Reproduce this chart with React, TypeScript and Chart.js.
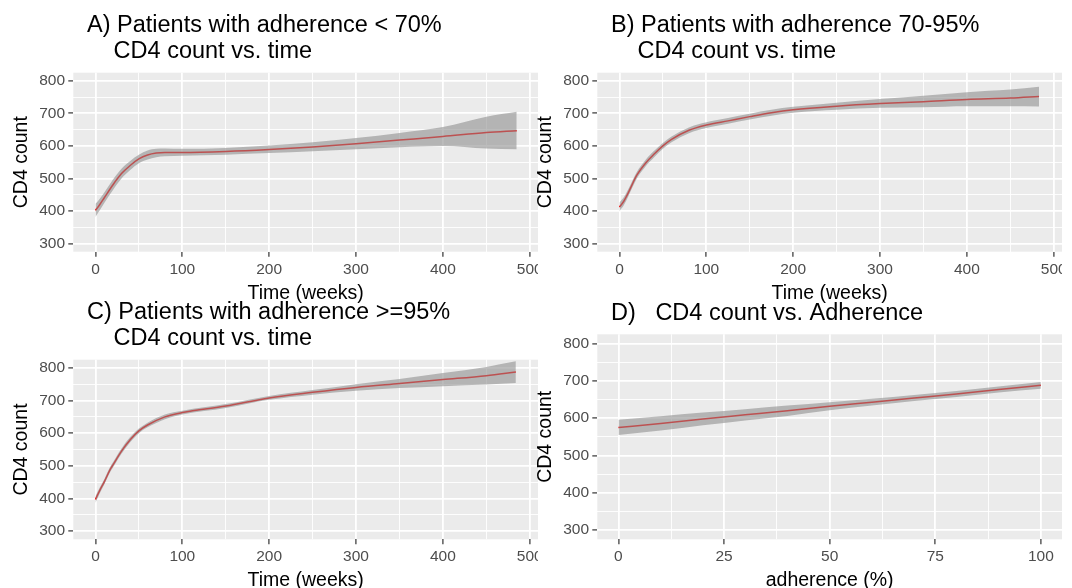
import { useEffect, useRef } from "react";
import { Chart, registerables } from "chart.js";

Chart.register(...registerables);

const FONT = "'Liberation Sans', Arial, Helvetica, sans-serif";

// ---------- text ----------
const titleA = ["A) Patients with adherence < 70%", "CD4 count vs. time"];
const titleB = ["B) Patients with adherence 70-95%", "CD4 count vs. time"];
const titleC = ["C) Patients with adherence >=95%", "CD4 count vs. time"];
const titleD = ["D)   CD4 count vs. Adherence"];
const yTitle = "CD4 count";
const xTitleTime = "Time (weeks)";
const xTitleAdh = "adherence (%)";

// ---------- ticks ----------
const timeMajorTicks = [0, 100, 200, 300, 400, 500];
const timeMinorTicks = [50, 150, 250, 350, 450];
const adhMajorTicks = [0, 25, 50, 75, 100];
const adhMinorTicks = [12.5, 37.5, 62.5, 87.5];
const cd4MajorTicks = [300, 400, 500, 600, 700, 800];
const cd4MinorTicks = [350, 450, 550, 650, 750];

// ---------- Panel A: adherence < 70% ----------
const timeA = [0, 5, 10, 20, 30, 40, 50, 60, 70, 80, 100, 150, 200, 250, 300, 350, 400, 450, 485];
const fitA = [402, 420, 440, 480, 515, 540, 560, 572, 578, 580, 580, 583, 589, 597, 607, 618, 629, 641, 647];
const lowA = [382, 402, 424, 464, 500, 526, 547, 558, 565, 568, 570, 573, 578, 584, 590, 596, 600, 592, 590];
const upA = [422, 438, 456, 496, 530, 554, 573, 586, 591, 592, 591, 594, 601, 611, 624, 640, 658, 690, 705];

// ---------- Panel B: adherence 70-95% ----------
const timeB = [0, 5, 10, 20, 30, 40, 50, 60, 80, 100, 125, 150, 175, 200, 250, 300, 350, 400, 450, 483];
const fitB = [412, 430, 455, 510, 547, 575, 600, 620, 648, 664, 677, 690, 702, 711, 722, 730, 736, 743, 747, 752];
const lowB = [400, 418, 444, 500, 537, 565, 591, 611, 639, 655, 668, 681, 693, 702, 711, 717, 719, 722, 722, 721];
const upB = [426, 442, 466, 520, 557, 585, 609, 629, 657, 673, 686, 699, 711, 720, 733, 744, 754, 765, 773, 782];

// ---------- Panel C: adherence >= 95% ----------
const timeC = [0, 5, 10, 17, 20, 30, 40, 50, 60, 80, 100, 150, 200, 250, 300, 350, 400, 450, 484];
const fitC = [397, 425, 450, 489, 502, 545, 580, 607, 625, 650, 663, 683, 708, 725, 740, 752, 764, 776, 787];
const lowC = [387, 416, 442, 481, 494, 537, 572, 600, 618, 643, 657, 677, 702, 718, 730, 738, 744, 749, 754];
const upC = [407, 434, 458, 497, 510, 553, 588, 614, 632, 657, 669, 689, 714, 732, 750, 766, 784, 803, 820];

// ---------- Panel D: CD4 vs adherence ----------
const adhD = [0, 10, 20, 30, 40, 50, 60, 70, 80, 90, 100];
const fitD = [575, 586, 598, 609, 620, 632, 643, 654, 665, 677, 688];
const lowD = [555, 567, 581, 594, 606, 621, 634, 646, 657, 669, 679];
const upD = [596, 605, 615, 624, 634, 643, 652, 662, 673, 685, 697];

const RIBBON = "rgba(140,140,140,0.58)";
const PANEL_BG = "#EBEBEB";

const CANVAS_W = 560;
const CANVAS_H = 305;

type PanelCfg = {
  title: string[];
  titleX: number[];
  titleY: number[];
  xs: number[];
  fit: number[];
  low: number[];
  up: number[];
  xMin: number;
  xMax: number;
  xMajor: number[];
  xMinor: number[];
  xTitle: string;
  plotTop: number;
  plotBottom: number;
};

const isIn = (arr: number[], v: number) => arr.some((m) => Math.abs(m - v) < 1e-6);

const bgPlugin = {
  id: "panelBg",
  beforeDraw(chart: any) {
    const { ctx, chartArea } = chart;
    ctx.save();
    ctx.fillStyle = PANEL_BG;
    ctx.fillRect(chartArea.left, chartArea.top, chartArea.right - chartArea.left, chartArea.bottom - chartArea.top);
    ctx.restore();
  },
};

function makeTitlePlugin(cfg: PanelCfg) {
  return {
    id: "panelTitle",
    afterDraw(chart: any) {
      const ctx = chart.ctx;
      ctx.save();
      ctx.font = `23.5px ${FONT}`;
      ctx.fillStyle = "#000000";
      ctx.textAlign = "left";
      ctx.textBaseline = "middle";
      cfg.title.forEach((line, i) => ctx.fillText(line, cfg.titleX[i], cfg.titleY[i]));
      ctx.restore();
    },
  };
}

function Panel({ left, top, cfg }: { left: number; top: number; cfg: PanelCfg }) {
  const ref = useRef<HTMLCanvasElement>(null);
  useEffect(() => {
    const canvas = ref.current;
    if (!canvas) return;
    const xTicks = [...cfg.xMajor, ...cfg.xMinor].sort((a, b) => a - b);
    const yTicks = [...cd4MajorTicks, ...cd4MinorTicks].sort((a, b) => a - b);
    const chart = new Chart(canvas, {
      type: "line",
      data: {
        datasets: [
          {
            data: cfg.xs.map((x, i) => ({ x, y: cfg.low[i] })),
            borderWidth: 0,
            borderColor: "rgba(0,0,0,0)",
            pointRadius: 0,
            fill: false,
            cubicInterpolationMode: "monotone",
          },
          {
            data: cfg.xs.map((x, i) => ({ x, y: cfg.up[i] })),
            borderWidth: 0,
            borderColor: "rgba(0,0,0,0)",
            backgroundColor: RIBBON,
            pointRadius: 0,
            fill: "-1",
            cubicInterpolationMode: "monotone",
          },
          {
            data: cfg.xs.map((x, i) => ({ x, y: cfg.fit[i] })),
            borderWidth: 1.5,
            borderColor: "#FF0000",
            pointRadius: 0,
            fill: false,
            cubicInterpolationMode: "monotone",
          },
        ],
      } as any,
      options: {
        responsive: false,
        animation: false,
        devicePixelRatio: 1,
        layout: { padding: { left: 0, top: cfg.plotTop, right: CANVAS_W - 538, bottom: 0 } },
        plugins: { legend: { display: false }, tooltip: { enabled: false }, title: { display: false } },
        scales: {
          x: {
            type: "linear",
            min: cfg.xMin,
            max: cfg.xMax,
            bounds: "data",
            afterBuildTicks: (s: any) => {
              s.ticks = xTicks.map((v) => ({ value: v }));
            },
            afterFit: (s: any) => {
              s.height = CANVAS_H - cfg.plotBottom;
              s.paddingLeft = 0;
              s.paddingRight = 0;
            },
            border: { display: false },
            grid: {
              color: "#FFFFFF",
              lineWidth: (c: any) => (isIn(cfg.xMajor, c.tick?.value) ? 1.8 : 0.9),
              tickColor: (c: any) => (isIn(cfg.xMajor, c.tick?.value) ? "#333333" : "rgba(0,0,0,0)"),
              tickWidth: 1.2,
              tickLength: 5,
              drawTicks: true,
            },
            ticks: {
              autoSkip: false,
              maxRotation: 0,
              minRotation: 0,
              padding: 3.5,
              color: "#4D4D4D",
              font: { family: FONT, size: 15.5 },
              callback: (v: any) => (isIn(cfg.xMajor, Number(v)) ? String(v) : ""),
            },
            title: {
              display: true,
              text: cfg.xTitle,
              color: "#000000",
              font: { family: FONT, size: 19.5 },
              padding: { top: 0, bottom: 0 },
            },
          },
          y: {
            type: "linear",
            min: 275,
            max: 825,
            bounds: "data",
            afterBuildTicks: (s: any) => {
              s.ticks = yTicks.map((v) => ({ value: v }));
            },
            afterFit: (s: any) => {
              s.width = 73.3;
              s.paddingTop = 0;
              s.paddingBottom = 0;
            },
            border: { display: false },
            grid: {
              color: "#FFFFFF",
              lineWidth: (c: any) => (isIn(cd4MajorTicks, c.tick?.value) ? 1.8 : 0.9),
              tickColor: (c: any) => (isIn(cd4MajorTicks, c.tick?.value) ? "#333333" : "rgba(0,0,0,0)"),
              tickWidth: 1.2,
              tickLength: 5,
              drawTicks: true,
            },
            ticks: {
              autoSkip: false,
              padding: 3.3,
              color: "#4D4D4D",
              font: { family: FONT, size: 15.5 },
              callback: (v: any) => (isIn(cd4MajorTicks, Number(v)) ? String(v) : ""),
            },
            title: {
              display: true,
              text: yTitle,
              color: "#000000",
              font: { family: FONT, size: 19.5 },
              padding: { top: 9.8, bottom: 0 },
            },
          },
        },
      } as any,
      plugins: [bgPlugin, makeTitlePlugin(cfg)],
    });
    return () => chart.destroy();
  }, [cfg]);
  return (
    <div style={{ position: "absolute", left, top, width: 538, height: CANVAS_H, overflow: "hidden" }}>
      <canvas ref={ref} width={CANVAS_W} height={CANVAS_H} style={{ width: CANVAS_W, height: CANVAS_H, display: "block" }} />
    </div>
  );
}

const twoLineX = [87, 113.6];
const twoLineY = [26, 52];

const cfgA: PanelCfg = {
  title: titleA, titleX: twoLineX, titleY: twoLineY,
  xs: timeA, fit: fitA, low: lowA, up: upA,
  xMin: -25.5, xMax: 509.5, xMajor: timeMajorTicks, xMinor: timeMinorTicks, xTitle: xTitleTime,
  plotTop: 72.7, plotBottom: 251.7,
};
const cfgB: PanelCfg = {
  title: titleB, titleX: twoLineX, titleY: twoLineY,
  xs: timeB, fit: fitB, low: lowB, up: upB,
  xMin: -25.5, xMax: 509.5, xMajor: timeMajorTicks, xMinor: timeMinorTicks, xTitle: xTitleTime,
  plotTop: 72.7, plotBottom: 251.7,
};
const cfgC: PanelCfg = {
  title: titleC, titleX: twoLineX, titleY: twoLineY,
  xs: timeC, fit: fitC, low: lowC, up: upC,
  xMin: -25.5, xMax: 509.5, xMajor: timeMajorTicks, xMinor: timeMinorTicks, xTitle: xTitleTime,
  plotTop: 72.7, plotBottom: 252.3,
};
const cfgD: PanelCfg = {
  title: titleD, titleX: [87], titleY: [26.5],
  xs: adhD, fit: fitD, low: lowD, up: upD,
  xMin: -5, xMax: 105, xMajor: adhMajorTicks, xMinor: adhMinorTicks, xTitle: xTitleAdh,
  plotTop: 47.3, plotBottom: 252.3,
};

export default function App() {
  return (
    <div style={{ position: "absolute", left: 0, top: 0, width: 1072, height: 588, overflow: "hidden", background: "#FFFFFF" }}>
      <Panel left={0} top={0} cfg={cfgA} />
      <Panel left={524} top={0} cfg={cfgB} />
      <Panel left={0} top={287} cfg={cfgC} />
      <Panel left={524} top={287} cfg={cfgD} />
    </div>
  );
}
